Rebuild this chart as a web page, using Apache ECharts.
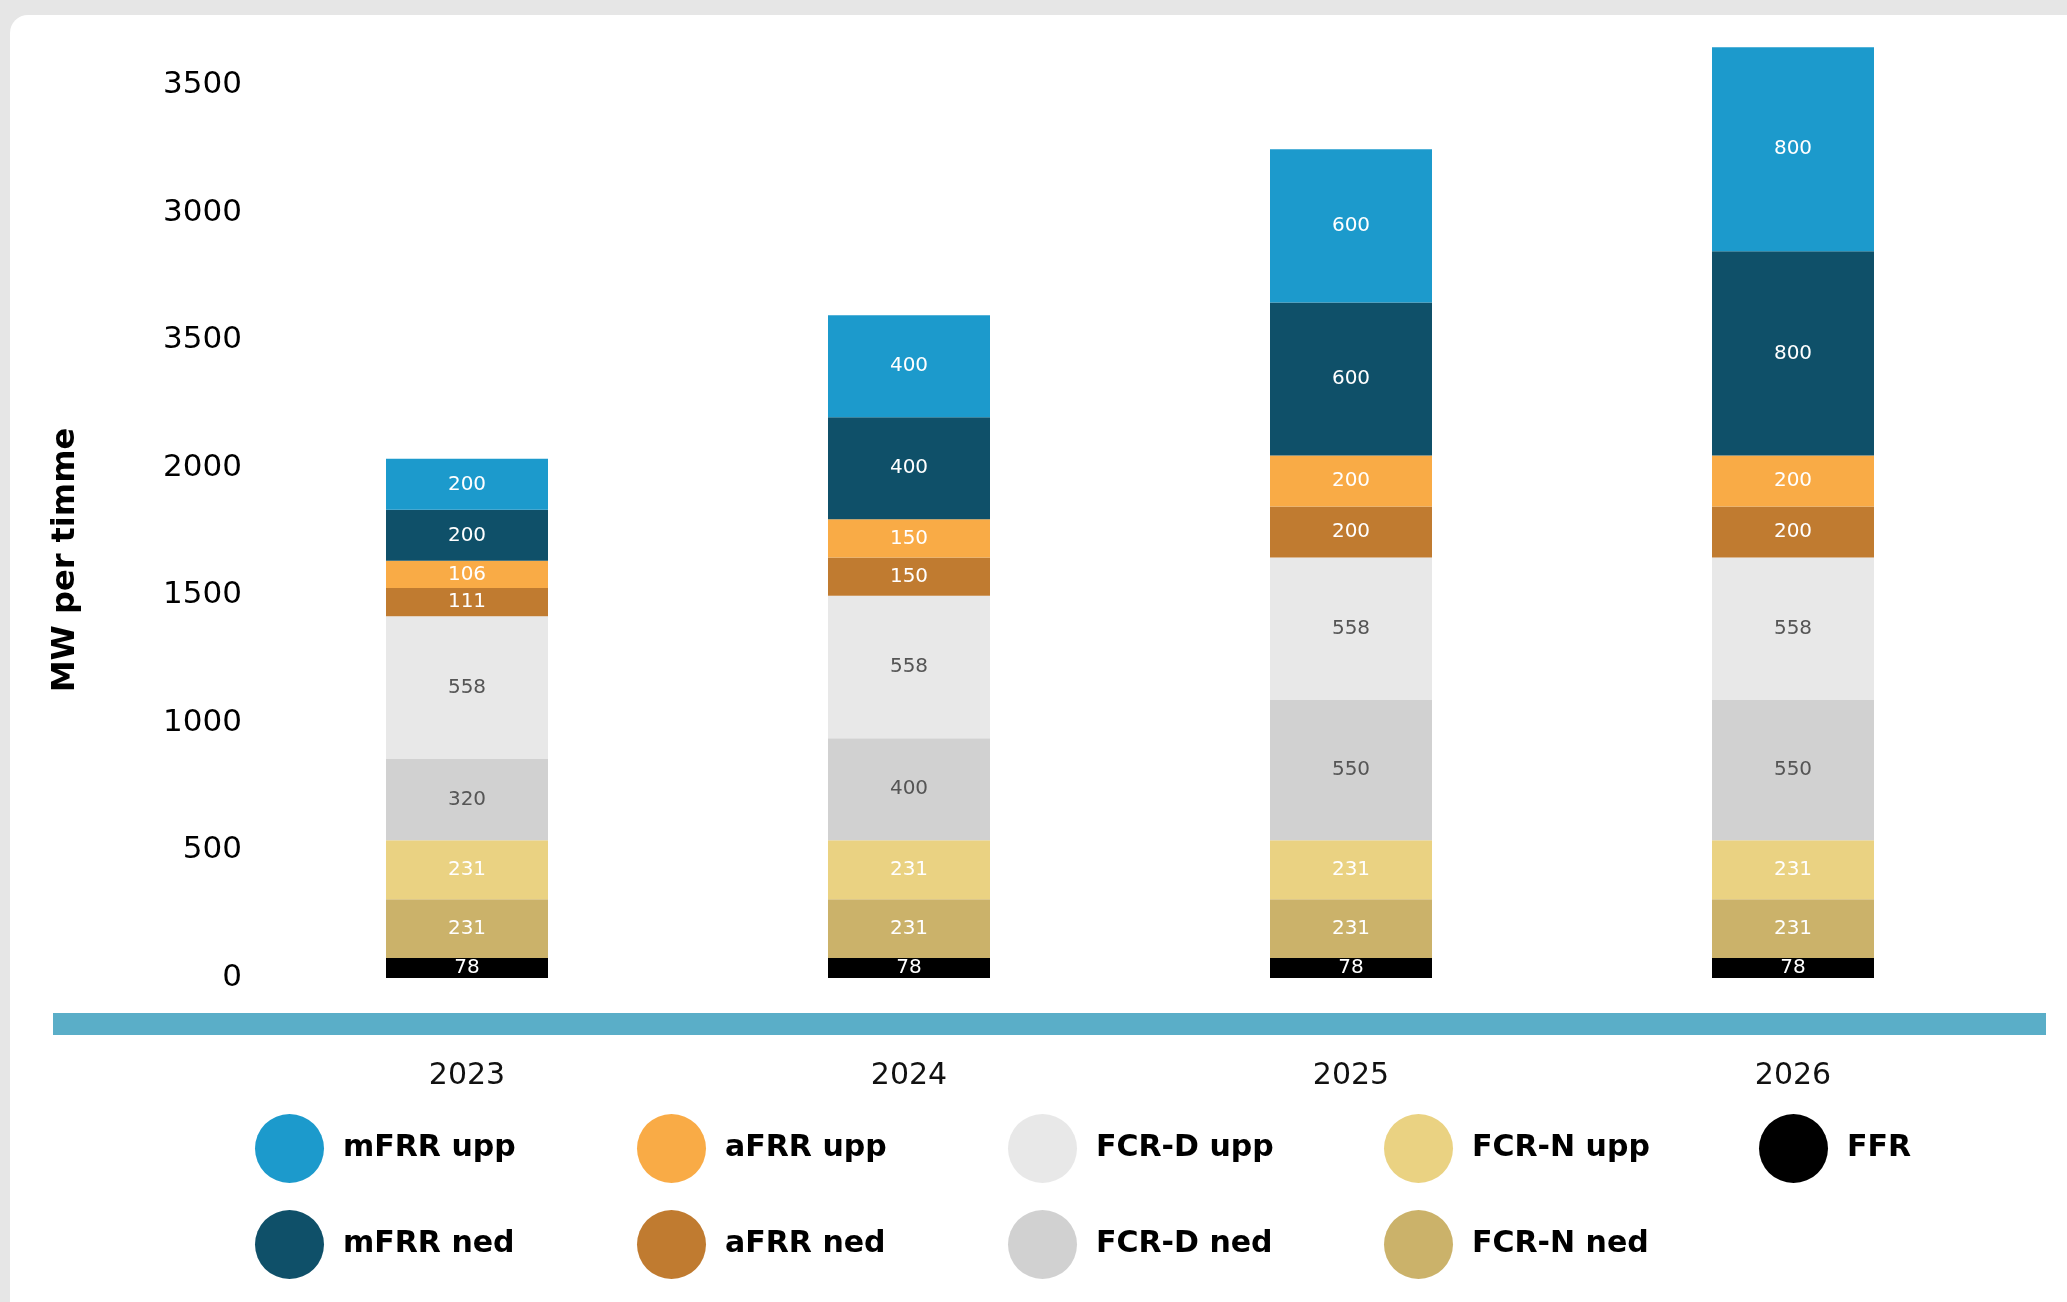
<!DOCTYPE html>
<html>
<head>
<meta charset="utf-8">
<script src="https://cdn.jsdelivr.net/npm/echarts@6/dist/echarts.min.js"></script>
<style>
  html, body { margin: 0; padding: 0; background: #e6e6e6; }
  #chart { width: 2067px; height: 1302px; }
</style>
</head>
<body>
<div id="chart"></div>
<script>
var years = ['2023', '2024', '2025', '2026'];
var yTickLabels = ['0', '500', '1000', '1500', '2000', '3500', '3000', '3500'];

// stacked from the bottom up
var ffr      = [78, 78, 78, 78];
var fcrNNed  = [231, 231, 231, 231];
var fcrNUpp  = [231, 231, 231, 231];
var fcrDNed  = [320, 400, 550, 550];
var fcrDUpp  = [558, 558, 558, 558];
var afrrNed  = [111, 150, 200, 200];
var afrrUpp  = [106, 150, 200, 200];
var mfrrNed  = [200, 400, 600, 800];
var mfrrUpp  = [200, 400, 600, 800];

var dom = document.getElementById('chart');
var myChart = echarts.init(dom);

var labelFont = 'DejaVu Sans';

function bar(name, data, color, labelColor) {
    return {
        name: name,
        type: 'bar',
        stack: 'total',
        data: data,
        barWidth: 162,
        clip: false,
        itemStyle: { color: color },
        label: {
            show: true,
            position: 'inside',
            color: labelColor,
            fontFamily: labelFont,
            fontSize: 20
        },
        emphasis: { disabled: true }
    };
}

function legendCol(left, names) {
    return {
        orient: 'vertical',
        left: left,
        top: 1109,
        data: names,
        icon: 'circle',
        itemWidth: 69,
        itemHeight: 69,
        itemGap: 27,
        selectedMode: false,
        textStyle: {
            color: '#000',
            fontFamily: labelFont,
            fontWeight: 'bold',
            fontSize: 30,
            padding: [0, 0, 0, 14]
        }
    };
}

var option = {
    backgroundColor: 'transparent',
    animation: false,
    graphic: [
        {
            type: 'rect',
            z: -10,
            shape: { x: 10, y: 15, width: 2200, height: 1400, r: 18 },
            style: { fill: '#ffffff' }
        },
        {
            type: 'rect',
            z: -5,
            shape: { x: 53, y: 1013, width: 1993, height: 22 },
            style: { fill: '#5aaec8' }
        },
        {
            type: 'text',
            x: 66,
            y: 560,
            rotation: Math.PI / 2,
            style: {
                text: 'MW per timme',
                fill: '#000',
                font: 'bold 32px "DejaVu Sans"',
                align: 'center',
                verticalAlign: 'middle'
            }
        }
    ],
    grid: {
        left: 246,
        right: 53,
        top: 85,
        bottom: 324
    },
    xAxis: {
        type: 'category',
        data: years,
        axisLine: { show: false },
        axisTick: { show: false },
        axisLabel: {
            color: '#111',
            fontFamily: labelFont,
            fontSize: 30,
            margin: 83
        }
    },
    yAxis: {
        type: 'value',
        min: 0,
        max: 3500,
        interval: 500,
        splitLine: { show: false },
        axisLine: { show: false },
        axisTick: { show: false },
        axisLabel: {
            color: '#000',
            fontFamily: labelFont,
            fontSize: 31,
            margin: 4,
            formatter: function (v) { return yTickLabels[Math.round(v / 500)]; }
        }
    },
    legend: [
        legendCol(250, ['mFRR upp', 'mFRR ned']),
        legendCol(632, ['aFRR upp', 'aFRR ned']),
        legendCol(1003, ['FCR-D upp', 'FCR-D ned']),
        legendCol(1379, ['FCR-N upp', 'FCR-N ned']),
        legendCol(1754, ['FFR'])
    ],
    series: [
        bar('FFR', ffr, '#000000', '#ffffff'),
        bar('FCR-N ned', fcrNNed, '#cbb26a', '#ffffff'),
        bar('FCR-N upp', fcrNUpp, '#ead282', '#ffffff'),
        bar('FCR-D ned', fcrDNed, '#d1d1d1', '#555555'),
        bar('FCR-D upp', fcrDUpp, '#e8e8e8', '#555555'),
        bar('aFRR ned', afrrNed, '#c07b30', '#ffffff'),
        bar('aFRR upp', afrrUpp, '#f9ab46', '#ffffff'),
        bar('mFRR ned', mfrrNed, '#0f5069', '#ffffff'),
        bar('mFRR upp', mfrrUpp, '#1c9acc', '#ffffff')
    ]
};

if (option && typeof option === 'object') {
    myChart.setOption(option, true);
}
</script>
</body>
</html>
